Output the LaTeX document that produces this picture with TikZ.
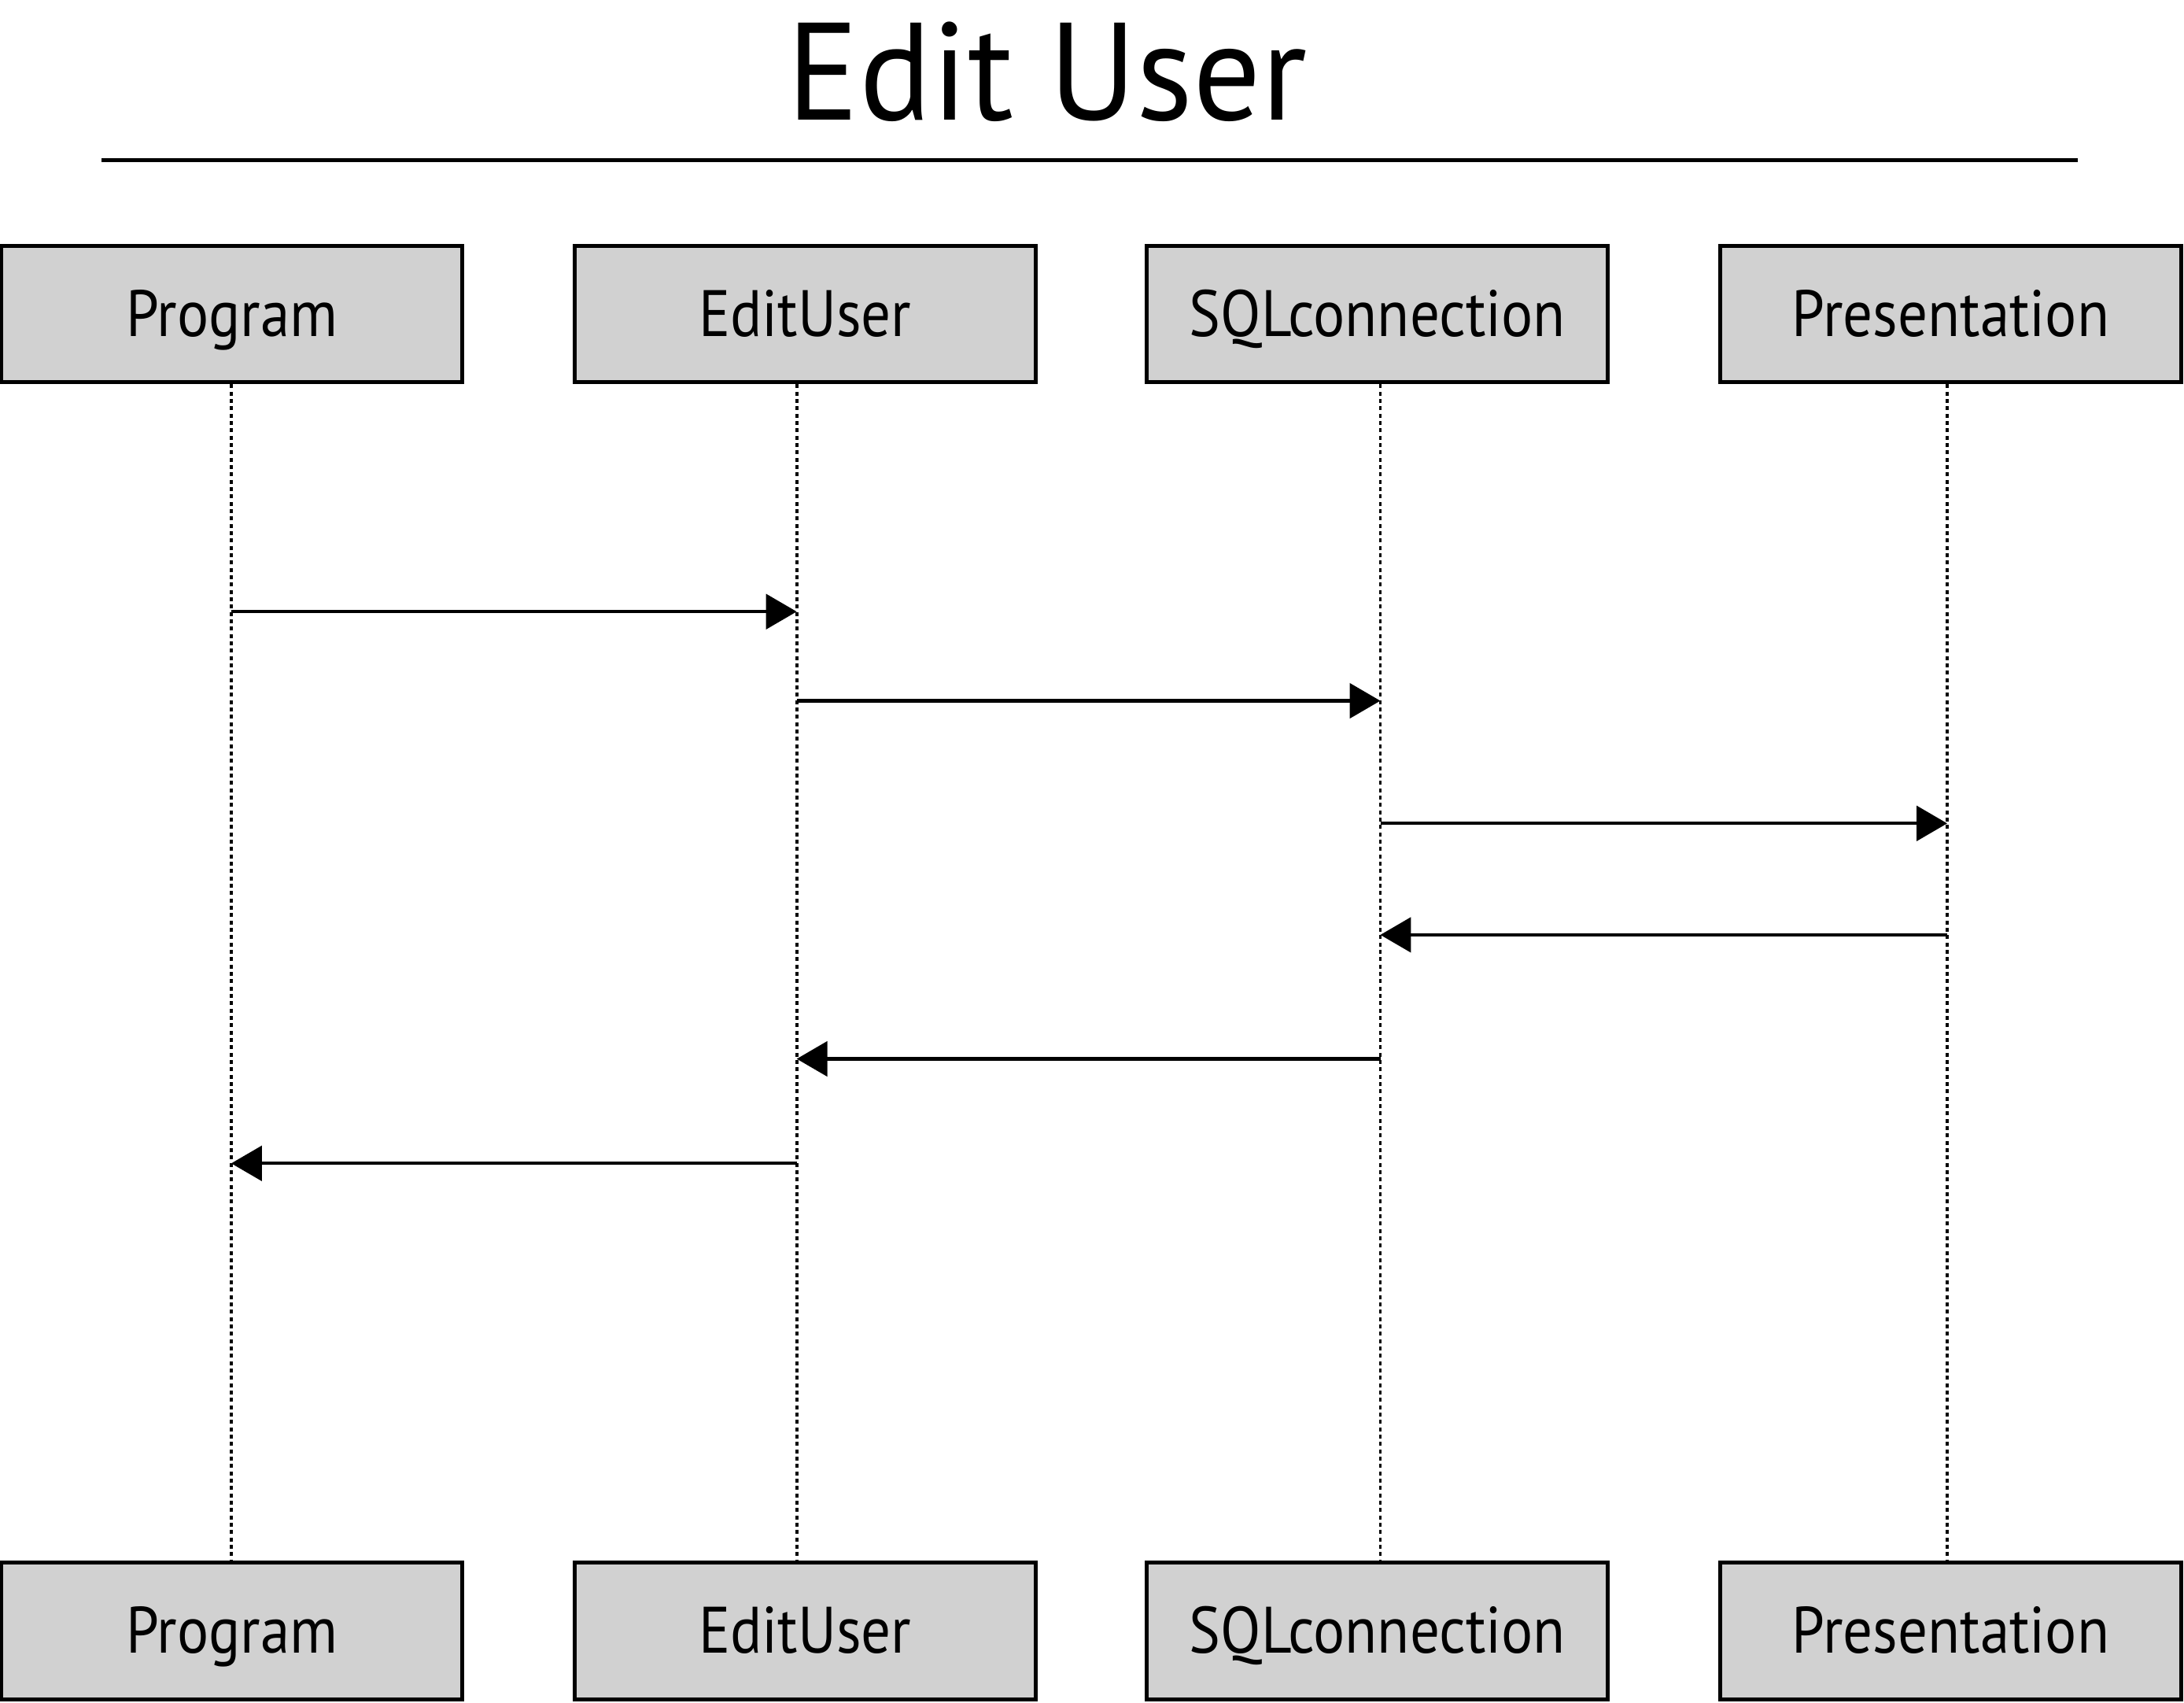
\documentclass[tikz,border=0pt]{standalone}
\usepackage{fontspec}
\setmainfont{PT Sans}
\newfontfamily\labelfont[FakeStretch=0.9]{PT Sans}
\newfontfamily\titlefont[FakeStretch=0.97]{PT Sans}
\usetikzlibrary{arrows.meta}
\definecolor{boxgray}{RGB}{209, 209, 209}

\begin{document}
\begin{tikzpicture}[
        actor/.style={draw=black,line width=0.8pt,fill=boxgray,minimum width=3.31cm,
            minimum height=0.98cm,text height=0.32cm,text depth=0pt,inner sep=0pt,
            font=\labelfont\fontsize{13.4}{16}\selectfont},
        lifeline/.style={line width=0.6pt,dash pattern=on 0.8pt off 0.7pt},
        msg/.style={line width=0.65pt,-{Triangle[length=0.22cm,width=0.25cm]}}
    ]
    \useasboundingbox (0,0) rectangle (15.68,-12.22);
    % title
    \node[anchor=base,inner sep=0pt,font=\titlefont\fontsize{28.3}{32}\selectfont] (title) at (7.52,-0.86) {Edit User};
    \coordinate (ruleL) at (0.73,-1.15);
    \coordinate (ruleR) at (14.92,-1.15);
    \draw[line width=0.8pt] (ruleL) -- (ruleR);

    % actors, top and bottom
    \node[actor] (progTop) at (1.665,-2.255) {Program};
    \node[actor] (editTop) at (5.78,-2.255) {EditUser};
    \node[actor] (sqlTop) at (9.89,-2.255) {SQLconnection};
    \node[actor] (presTop) at (14.005,-2.255) {Presentation};
    \node[actor] (progBot) at (1.665,-11.705) {Program};
    \node[actor] (editBot) at (5.78,-11.705) {EditUser};
    \node[actor] (sqlBot) at (9.89,-11.705) {SQLconnection};
    \node[actor] (presBot) at (14.005,-11.705) {Presentation};

    % lifelines
    \foreach \a/\dx in {prog/-0.05mm, edit/-0.6mm, sql/0.2mm, pres/-0.25mm} {
        \coordinate (\a L) at ([xshift=\dx]\a Top.south);
        \draw[lifeline] (\a L) -- (\a L |- \a Bot.north);
    }

    % messages
    \foreach \from/\to/\y in {prog/edit/4.39, edit/sql/5.03, sql/pres/5.91,
            pres/sql/6.71, sql/edit/7.60, edit/prog/8.35}
        \draw[msg] (\from L |- 0,-\y) -- (\to L |- 0,-\y);
\end{tikzpicture}
\end{document}
